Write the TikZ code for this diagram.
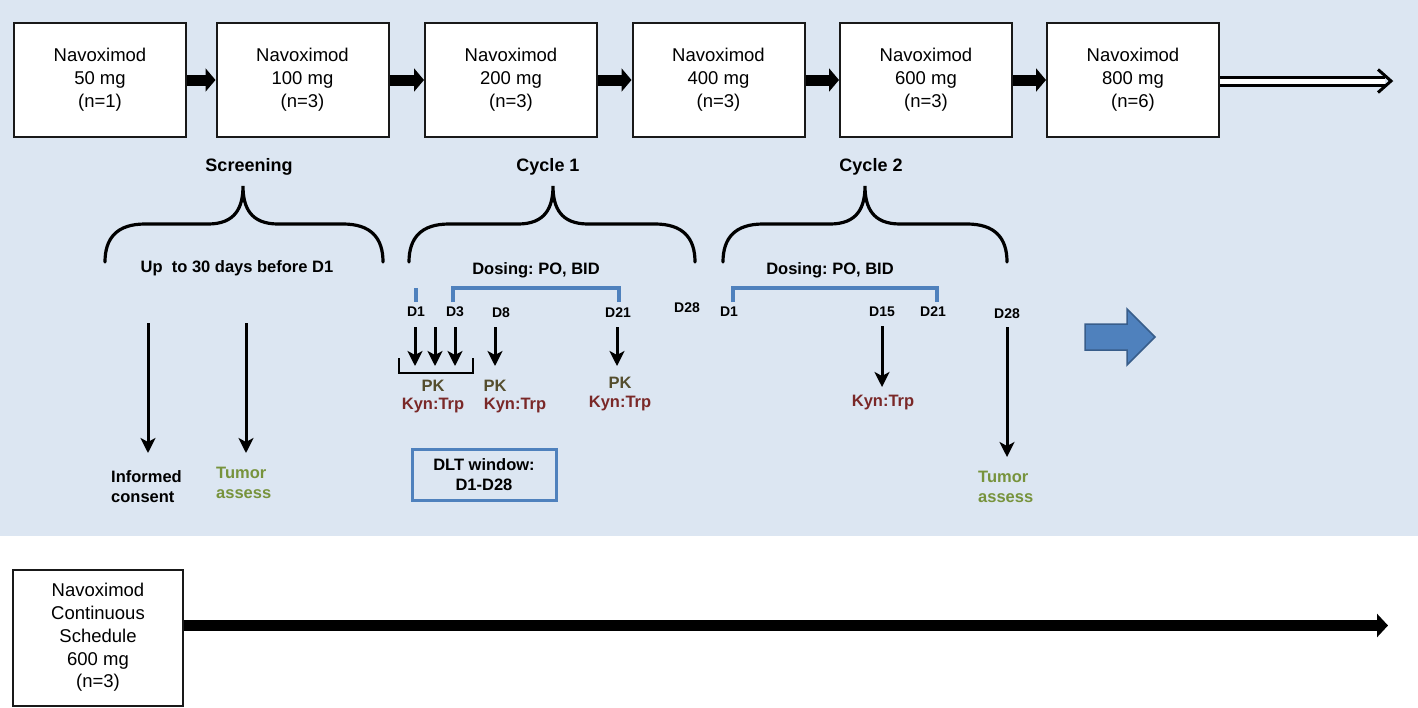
\documentclass[tikz,border=0pt]{standalone}
\usepackage{fontspec}
\setmainfont{Liberation Sans}
\usetikzlibrary{arrows.meta}
\frenchspacing
\definecolor{bgblue}{RGB}{220,230,242}
\definecolor{brblue}{RGB}{79,129,189}
\definecolor{arrowedge}{RGB}{56,93,138}
\definecolor{tumorgreen}{RGB}{119,147,60}
\definecolor{pkcol}{RGB}{84,77,45}
\definecolor{kyncol}{RGB}{122,40,40}
\newcommand\curlybr[3]{%
  \draw[bracestyle] (#1,262) .. controls (#1,238) and (#1+12,224) .. (#1+40,224) -- (#2-35,224)
    .. controls (#2-8,224) and (#2,208) .. (#2,186)
    .. controls (#2,208) and (#2+8,224) .. (#2+35,224) -- (#3-40,224)
    .. controls (#3-12,224) and (#3,238) .. (#3,262);}
\tikzset{
  dosebox/.style={draw=black!90, line width=2pt, fill=white, minimum width=172pt, minimum height=114pt,
    align=center, inner sep=0pt, font=\fontsize{18.5}{22.8}\selectfont},
  bigarrow/.style={line width=11pt, -{Triangle[length=10pt,width=23pt]}},
  hollowarrow/.style={line width=3pt, double=white, double distance=5pt},
  heading/.style={inner sep=0pt, font=\fontsize{18}{21}\selectfont\bfseries},
  label16/.style={inner sep=0pt, font=\fontsize{16.5}{20}\selectfont\bfseries, align=center},
  dlab/.style={inner sep=0pt, font=\fontsize{14}{16}\selectfont\bfseries},
  smallarrow/.style={line width=3pt, -{Stealth[length=15pt,width=15pt,inset=4pt]}},
  bracestyle/.style={line width=3.2pt, line cap=round},
  bluebr/.style={brblue, line width=4pt},
  pk/.style={inner sep=0pt, text=pkcol, font=\fontsize{16.5}{20}\selectfont\bfseries},
  kyn/.style={inner sep=0pt, text=kyncol, font=\fontsize{16.5}{20}\selectfont\bfseries},
  tumor/.style={inner sep=0pt, text=tumorgreen, align=left, font=\fontsize{16.5}{20}\selectfont\bfseries},
}
\begin{document}
\begin{tikzpicture}[x=1pt, y=-1pt]
\useasboundingbox (0,0) rectangle (1418,707);
\fill[bgblue] (0,0) rectangle (1418,536);

% top dose boxes
\node[dosebox] (b1) at (100,80) {Navoximod\\50 mg\\(n=1)};
\node[dosebox] (b2) at (302.5,80) {Navoximod\\100 mg\\(n=3)};
\node[dosebox] (b3) at (511,80) {Navoximod\\200 mg\\(n=3)};
\node[dosebox] (b4) at (718.5,80) {Navoximod\\400 mg\\(n=3)};
\node[dosebox] (b5) at (926,80) {Navoximod\\600 mg\\(n=3)};
\node[dosebox] (b6) at (1133,80) {Navoximod\\800 mg\\(n=6)};
\draw[bigarrow] (b1.east) -- (b2.west);
\draw[bigarrow] (b2.east) -- (b3.west);
\draw[bigarrow] (b3.east) -- (b4.west);
\draw[bigarrow] (b4.east) -- (b5.west);
\draw[bigarrow] (b5.east) -- (b6.west);
\coordinate (hend) at (1385,81);
\draw[hollowarrow] (b6.east |- hend) -- (hend);
\draw[line width=3pt, miter limit=10] (1378,69.5) -- (1391,81) -- (1378,92.5);

% headings and braces
\node[heading] (scr) at (249,167) {Screening};
\node[heading] (cy1) at (548,167) {Cycle 1};
\node[heading] (cy2) at (871,167) {Cycle 2};
\curlybr{105}{243}{383}
\curlybr{409}{553}{695}
\curlybr{723}{865}{1007}

% screening
\node[label16] (upto) at (237,268) {Up\ \ to 30 days before D1};
\coordinate (s1a) at (148,323); \coordinate (s1b) at (148,453);
\coordinate (s2a) at (246,323); \coordinate (s2b) at (246,453);
\draw[smallarrow] (s1a) -- (s1b);
\draw[smallarrow] (s2a) -- (s2b);
\node[label16, align=left, anchor=west] (ic) at (111,487) {Informed\\consent};
\node[tumor, anchor=west] (ta1) at (216,483) {Tumor\\assess};

% cycle 1
\node[label16] (dose1) at (536,270) {Dosing: PO, BID};
\draw[bluebr] (416,288) -- (416,302);
\draw[bluebr] (453,302) -- (453,288) -- (619,288) -- (619,302);
\node[dlab] (c1d1) at (416,312) {D1};
\node[dlab] (c1d3) at (455,312) {D3};
\node[dlab] (c1d8) at (501,313) {D8};
\node[dlab] (c1d21) at (618,313) {D21};
\node[dlab] (c1d28) at (687,308) {D28};
\foreach \xx/\nm in {415/a, 435/b, 455/c, 495/d, 617/e}{
  \coordinate (p\nm1) at (\xx,327); \coordinate (p\nm2) at (\xx,366);
  \draw[smallarrow] (p\nm1) -- (p\nm2);
}
\draw[line width=2.5pt] (399,358) -- (399,373) -- (473,373) -- (473,358);
\node[pk] (pk1) at (433,386) {PK};
\node[kyn] (ky1) at (433,406) {Kyn:Trp};
\node[pk] (pk2) at (495,386) {PK};
\node[kyn] (ky2) at (515,406) {Kyn:Trp};
\node[pk] (pk3) at (620,383) {PK};
\node[kyn] (ky3) at (620,404) {Kyn:Trp};
\node[draw=brblue, line width=3pt, minimum width=144pt, minimum height=51pt, align=center,
  inner sep=0pt, font=\fontsize{16.5}{19.5}\selectfont\bfseries] (dlt) at (484,474.5) {DLT window:\\D1-D28};

% cycle 2
\node[label16] (dose2) at (830,270) {Dosing: PO, BID};
\draw[bluebr] (733,302) -- (733,288) -- (937,288) -- (937,302);
\node[dlab] (c2d1) at (729,312) {D1};
\node[dlab] (c2d15) at (882,312) {D15};
\node[dlab] (c2d21) at (933,312) {D21};
\node[dlab] (c2d28) at (1007,314) {D28};
\coordinate (q1a) at (882,326); \coordinate (q1b) at (882,387);
\coordinate (q2a) at (1007,327); \coordinate (q2b) at (1007,457);
\draw[smallarrow] (q1a) -- (q1b);
\draw[smallarrow] (q2a) -- (q2b);
\node[kyn] (ky4) at (883,403) {Kyn:Trp};
\node[tumor, anchor=west] (ta2) at (978,487) {Tumor\\assess};

% blue block arrow
\draw[fill=brblue, draw=arrowedge, line width=1.5pt] (1085,324) -- (1127,324) -- (1127,309) -- (1155,337)
  -- (1127,365) -- (1127,350) -- (1085,350) -- cycle;

% continuous schedule
\node[dosebox, minimum width=170pt, minimum height=136pt] (cs) at (98,637.5)
  {Navoximod\\Continuous\\Schedule\\600 mg\\(n=3)};
\coordinate (csend) at (1388,625.5);
\draw[line width=11pt, -{Triangle[length=11pt,width=23pt]}] (cs.east |- csend) -- (csend);
\end{tikzpicture}
\end{document}
